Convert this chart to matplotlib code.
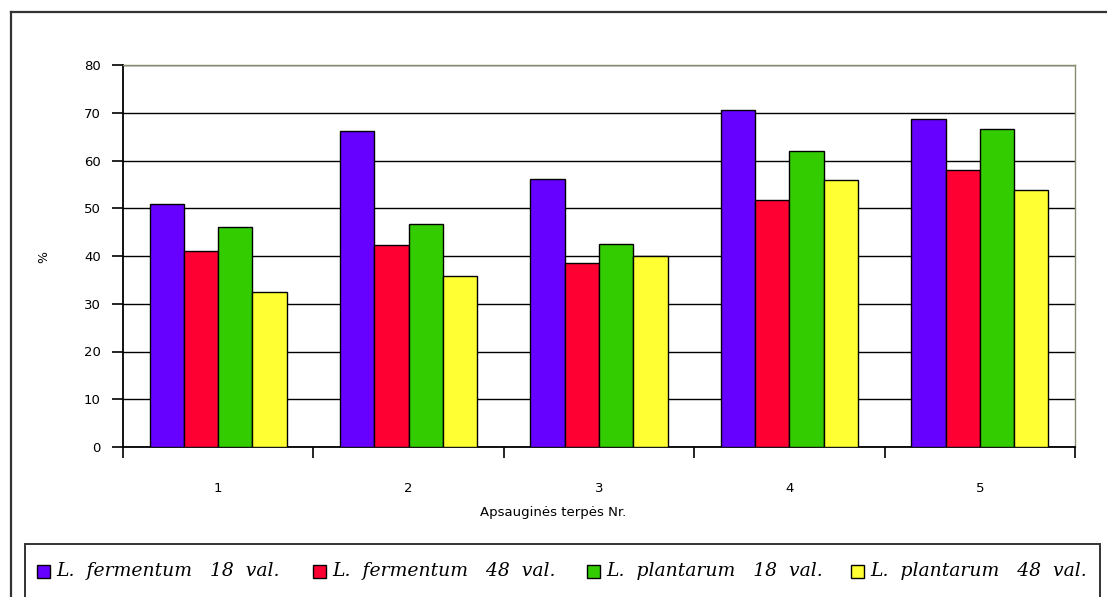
import matplotlib
matplotlib.use("Agg")
import matplotlib.pyplot as plt
import numpy as np
from matplotlib.patches import Rectangle
from matplotlib.lines import Line2D

categories = ["1", "2", "3", "4", "5"]
series_labels = ["L.  fermentum   18  val.", "L.  fermentum   48  val.",
                 "L.  plantarum   18  val.", "L.  plantarum   48  val."]
ferm18 = [50.8, 66.2, 56.1, 70.6, 68.7]
ferm48 = [41.0, 42.3, 38.5, 51.7, 58.1]
plant18 = [46.1, 46.6, 42.6, 61.9, 66.6]
plant48 = [32.4, 35.8, 40.1, 56.0, 53.8]
series = [ferm18, ferm48, plant18, plant48]
colors = ["#6600FF", "#FF0033", "#33CC00", "#FFFF33"]
yticks = [0, 10, 20, 30, 40, 50, 60, 70, 80]
xlabel = "Apsauginės terpės Nr."
ylabel = "%"

W, H = 1107, 597
fig = plt.figure(figsize=(W / 100, H / 100), dpi=100)
fig.patch.set_facecolor("white")

def fx(px):
    return px / W

def fy(py):
    return 1 - py / H

ax = fig.add_axes([fx(123), fy(447), fx(1075) - fx(123), fy(65) - fy(447)])

n = len(categories)
x = np.arange(n)
bw = 0.18
for i, (vals, col) in enumerate(zip(series, colors)):
    ax.bar(x + (i - 1.5) * bw, vals, width=bw, color=col, edgecolor="black",
           linewidth=1.0, zorder=3)

ax.set_xlim(-0.5, n - 0.5)
ax.set_ylim(0, 80)
ax.set_yticks(yticks)
ax.set_yticklabels([str(v) for v in yticks], fontsize=9.5, family="DejaVu Sans")
ax.yaxis.grid(True, color="black", linewidth=1.0, zorder=1)
ax.set_axisbelow(True)

ax.set_xticks(x)
ax.set_xticklabels(categories, fontsize=9.5, family="DejaVu Sans")
ax.tick_params(axis="x", length=0, pad=25)
ax.set_xticks(np.arange(n + 1) - 0.5, minor=True)
ax.tick_params(axis="x", which="minor", length=8, width=1.2, direction="out", color="black")
ax.tick_params(axis="y", length=8, width=1.2, direction="out", color="black", pad=8)

for s in ["top", "right"]:
    ax.spines[s].set_color("#8a8a70")
    ax.spines[s].set_linewidth(1.0)
for s in ["left", "bottom"]:
    ax.spines[s].set_color("black")
    ax.spines[s].set_linewidth(1.3)

ax.set_xlabel(xlabel, fontsize=9.5, family="DejaVu Sans", labelpad=4)
ax.xaxis.set_label_coords(0.452, -0.155)
fig.text(fx(44), fy(257), ylabel, fontsize=9, rotation=90, ha="center", va="center",
         family="DejaVu Sans")

# outer frame
fig.add_artist(Line2D([fx(11), fx(11)], [fy(12), 0], color="#333333", linewidth=1.6))
fig.add_artist(Line2D([fx(11), 1], [fy(12), fy(12)], color="#333333", linewidth=1.6))

# legend box
fig.add_artist(Rectangle((fx(25), fy(600)), fx(1100) - fx(25), fy(544) - fy(600),
                         transform=fig.transFigure, facecolor="white",
                         edgecolor="#333333", linewidth=1.4))
sq_x = [37, 313, 587, 851]
ly = 571
for lab, col, sx in zip(series_labels, colors, sq_x):
    fig.add_artist(Rectangle((fx(sx), fy(ly + 7)), fx(13), fy(ly - 6) - fy(ly + 7),
                             transform=fig.transFigure, facecolor=col,
                             edgecolor="black", linewidth=1.0))
    fig.text(fx(sx + 19), fy(ly), lab, fontsize=13.5, style="italic",
             family="DejaVu Serif", va="center", ha="left")

fig.savefig("out.png", dpi=100)
